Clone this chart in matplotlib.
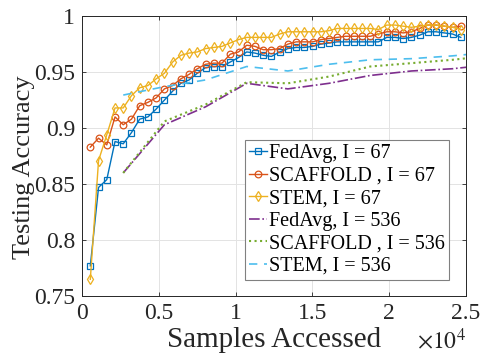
import numpy as np
import matplotlib
matplotlib.use("Agg")
import matplotlib.pyplot as plt
from matplotlib.ticker import FuncFormatter

plt.rcParams['font.family'] = ['Liberation Serif', 'DejaVu Serif']
plt.rcParams['mathtext.fontset'] = 'stix'

# samples accessed (I = 67 -> one point every 536 samples, I = 536 -> every 2680)
samples_67 = np.arange(1, 47) * 536
samples_536 = np.arange(1, 11) * 2680

fedavg_67 = [0.777, 0.847, 0.854, 0.888, 0.886, 0.896, 0.908, 0.910, 0.917, 0.925,
             0.933, 0.940, 0.943, 0.949, 0.954, 0.955, 0.955, 0.959, 0.963, 0.968,
             0.967, 0.965, 0.964, 0.968, 0.971, 0.972, 0.972, 0.973, 0.975, 0.976,
             0.977, 0.977, 0.977, 0.977, 0.977, 0.977, 0.981, 0.981, 0.980, 0.981,
             0.983, 0.986, 0.986, 0.985, 0.984, 0.981]
scaffold_67 = [0.883, 0.891, 0.885, 0.910, 0.903, 0.908, 0.920, 0.923, 0.927, 0.935,
               0.938, 0.944, 0.948, 0.953, 0.957, 0.958, 0.958, 0.966, 0.968, 0.974,
               0.973, 0.970, 0.970, 0.971, 0.975, 0.977, 0.977, 0.977, 0.979, 0.980,
               0.981, 0.982, 0.982, 0.982, 0.982, 0.984, 0.986, 0.986, 0.985, 0.986,
               0.989, 0.992, 0.992, 0.991, 0.990, 0.991]
stem_67 = [0.765, 0.871, 0.894, 0.918, 0.918, 0.929, 0.936, 0.938, 0.944, 0.949,
           0.959, 0.965, 0.967, 0.968, 0.971, 0.972, 0.973, 0.976, 0.979, 0.981,
           0.981, 0.981, 0.981, 0.984, 0.986, 0.986, 0.986, 0.986, 0.986, 0.987,
           0.989, 0.989, 0.989, 0.989, 0.989, 0.988, 0.992, 0.992, 0.991, 0.990,
           0.991, 0.992, 0.992, 0.991, 0.990, 0.988]

fedavg_536 = [0.860, 0.903, 0.919, 0.940, 0.935, 0.940, 0.947, 0.951, 0.953, 0.957]
scaffold_536 = [0.860, 0.906, 0.921, 0.941, 0.940, 0.946, 0.955, 0.958, 0.961, 0.965]
stem_536 = [0.9295, 0.937, 0.943, 0.955, 0.951, 0.957, 0.961, 0.962, 0.9645, 0.968]

blue = '#0072BD'
orange = '#D95319'
yellow = '#EDB120'
purple = '#7E2F8E'
green = '#77AC30'
cyan = '#4DBEEE'

fig = plt.figure(figsize=(4.8, 3.58), dpi=100)
ax = fig.add_axes([0.171, 0.173, 0.8, 0.782])

mk = dict(markersize=4.8, markerfacecolor='none', markeredgewidth=0.9, linewidth=1.0)
ax.plot(samples_67, fedavg_67, '-s', color=blue, label='FedAvg, I = 67', **mk)
ax.plot(samples_67, scaffold_67, '-o', color=orange, label='SCAFFOLD , I = 67', **mk)
ax.plot(samples_67, stem_67, '-d', color=yellow, label='STEM, I = 67', **mk)
ax.plot(samples_536, fedavg_536, '-.', color=purple, linewidth=1.2, label='FedAvg, I = 536')
ax.plot(samples_536, scaffold_536, ':', color=green, linewidth=1.5, label='SCAFFOLD , I = 536')
ax.plot(samples_536, stem_536, '--', color=cyan, linewidth=1.2, dashes=(5, 4), label='STEM, I = 536')

ax.set_xlim(0, 25000)
ax.set_ylim(0.75, 1.0)
ax.set_xticks([0, 5000, 10000, 15000, 20000, 25000])
ax.set_yticks([0.75, 0.8, 0.85, 0.9, 0.95, 1.0])
ax.xaxis.set_major_formatter(FuncFormatter(lambda v, p: '%g' % (v / 1e4)))
ax.yaxis.set_major_formatter(FuncFormatter(lambda v, p: '%g' % v))
ax.tick_params(direction='in', length=3, width=0.6, labelsize=17, colors='#262626',
               top=True, right=True, pad=5)
ax.grid(True, color='#e3e3e3', linewidth=0.7)
ax.set_axisbelow(True)
for s in ax.spines.values():
    s.set_color('#262626')
    s.set_linewidth(0.7)

ax.set_xlabel('Samples Accessed', fontsize=21, color='#262626', labelpad=2)
ax.set_ylabel('Testing Accuracy', fontsize=19, color='#262626')
ax.yaxis.set_label_coords(-0.122, 0.46)
ax.text(1.0, -0.115, r'$\times10^{4}$', transform=ax.transAxes, ha='right', va='top',
        fontsize=17, color='#262626')

leg = ax.legend(loc='upper left', bbox_to_anchor=(0.424, 0.557), fontsize=14.5,
                frameon=True, fancybox=False, edgecolor='#808080', framealpha=1,
                handlelength=0.9, handletextpad=0.1, borderpad=0.2,
                labelspacing=0.17, borderaxespad=0)
leg.get_frame().set_linewidth(0.8)

fig.savefig('out.png', dpi=100)
